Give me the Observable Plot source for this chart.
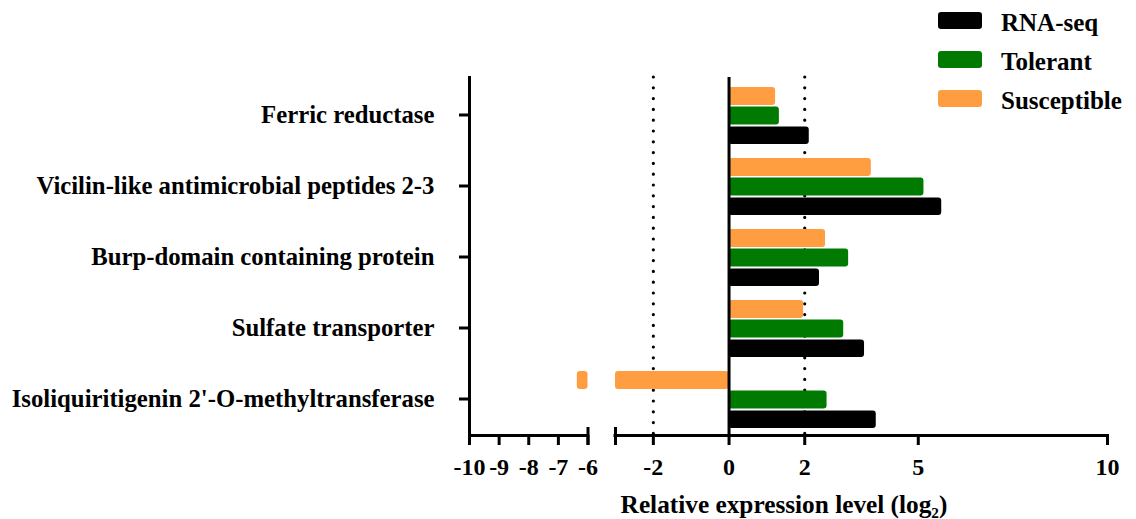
<!DOCTYPE html>
<html><head><meta charset="utf-8">
<script src="https://cdn.jsdelivr.net/npm/d3@7"></script>
<script src="https://cdn.jsdelivr.net/npm/@observablehq/plot@0.6"></script>
<style>
body{margin:0;background:#fff;}
#wrap{position:relative;width:1136px;height:519px;}
#legend{position:absolute;left:938px;top:12px;font:bold 25px 'Liberation Serif','Times New Roman',serif;color:#000;}
.item{position:absolute;left:0;display:flex;align-items:center;white-space:nowrap;height:17px;line-height:17px;}
.sw{width:44px;height:17px;border-radius:3px;margin-right:19px;flex:none;}
.lbl{padding-top:3px;}
</style></head><body><div id="wrap"></div>
<script>
const categories = [
  "Ferric reductase",
  "Vicilin-like antimicrobial peptides 2-3",
  "Burp-domain containing protein",
  "Sulfate transporter",
  "Isoliquiritigenin 2'-O-methyltransferase"
];
const seriesNames = ["RNA-seq", "Tolerant", "Susceptible"];
const rnaSeq      = [2.12, 5.62, 2.39, 3.58, 3.89];
const tolerant    = [1.33, 5.15, 3.16, 3.03, 2.59];
const susceptible = [1.23, 3.76, 2.55, 1.97, -6.36];
const xTicks = [-10, -9, -8, -7, -6, -2, 0, 2, 5, 10];
const refLines = [-2, 2];
const axisTitle = "Relative expression level (log\u2082)";

const colors = {"RNA-seq": "#000000", "Tolerant": "#007a00", "Susceptible": "#ff9e40"};
const W = 1136, H = 519, mL = 469, mR = 29, mT = 77, mB = 84;
const plotH = H - mT - mB;
const bw = plotH / categories.length;
const breakLo = -6, breakHi = -3;
const bandOffsets = {"Susceptible": [8, 26.5], "Tolerant": [27.5, 46], "RNA-seq": [47.5, 65.5]};

const values = {"RNA-seq": rnaSeq, "Tolerant": tolerant, "Susceptible": susceptible};
const bars = [];
categories.forEach((c, i) => seriesNames.forEach(s => {
  const v = values[s][i];
  if (v < breakHi) {
    bars.push({category: c, series: s, x1: v, x2: breakLo});
    bars.push({category: c, series: s, x1: breakHi, x2: 0});
  } else {
    bars.push({category: c, series: s, x1: 0, x2: v});
  }
}));

const fmt = d => d < 0 ? "-" + Math.abs(d) : String(d);

const barMarks = seriesNames.map(s => Plot.barX(bars.filter(d => d.series === s), {
  x1: "x1", x2: "x2", y: "category", fill: colors[s], rx: 3,
  insetTop: bandOffsets[s][0], insetBottom: bw - bandOffsets[s][1]
}));

const chart = Plot.plot({
  width: W, height: H,
  marginLeft: mL, marginRight: mR, marginTop: mT, marginBottom: mB,
  style: {fontFamily: "'Liberation Serif','Times New Roman',serif", fontWeight: "bold", color: "#000", background: "#fff"},
  x: {type: "linear", domain: [-10, breakLo, breakHi, 10], range: [mL, 587.5, 615, W - mR]},
  y: {domain: categories, padding: 0},
  marks: [
    Plot.frame({anchor: "bottom", strokeWidth: 3}),
    Plot.frame({anchor: "left", strokeWidth: 3}),
    Plot.rect([0], {x1: breakLo, x2: breakHi, fill: "white", insetLeft: 1.5, insetRight: 1.5, insetBottom: -4}),
    Plot.ruleX(refLines, {strokeWidth: 3.2, strokeDasharray: "0 10.8", strokeLinecap: "round"}),
    ...barMarks,
    Plot.ruleX([0], {strokeWidth: 3}),
    Plot.ruleX([breakLo, breakHi], {strokeWidth: 3, insetTop: plotH - 8, insetBottom: -10}),
    Plot.axisX({ticks: xTicks, tickFormat: fmt, tickSize: 10, tickPadding: 12, fontSize: 24, fontWeight: "bold", strokeWidth: 3, label: null}),
    Plot.axisY({tickSize: 10, tickPadding: 25, fontSize: 24.75, fontWeight: "bold", strokeWidth: 3, label: null}),
    Plot.text([axisTitle], {text: d => d, frameAnchor: "bottom", lineAnchor: "middle", dy: 69, dx: -4.5, fontSize: 25.3, fontWeight: "bold"})
  ]
});
const wrap = document.getElementById("wrap");
wrap.appendChild(chart);

const legend = document.createElement("div");
legend.id = "legend";
seriesNames.forEach((s, i) => {
  const item = document.createElement("div");
  item.className = "item";
  item.style.top = (i * 39) + "px";
  const sw = document.createElement("span");
  sw.className = "sw";
  sw.style.background = colors[s];
  const t = document.createElement("span");
  t.className = "lbl";
  t.textContent = s;
  item.appendChild(sw); item.appendChild(t);
  legend.appendChild(item);
});
wrap.appendChild(legend);
</script></body></html>
